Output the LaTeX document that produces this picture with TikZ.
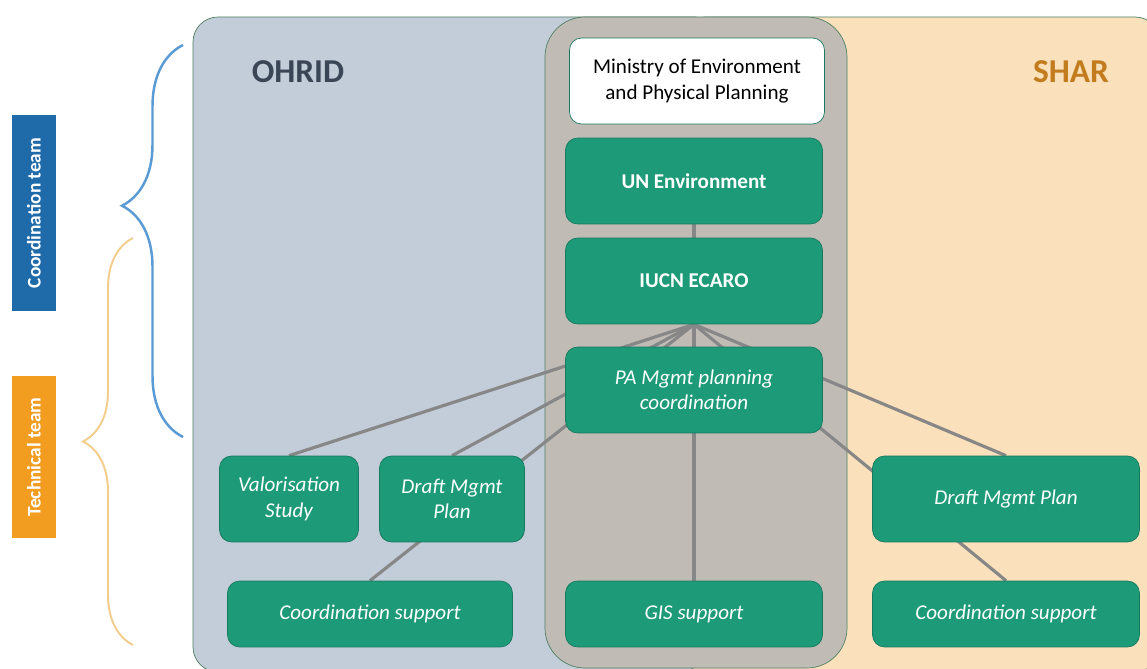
\documentclass[tikz,border=0pt]{standalone}
\usepackage{fontspec}
\setmainfont{Carlito}
\usetikzlibrary{positioning}
\usetikzlibrary{decorations.pathreplacing}
\usepackage{xcolor}

\definecolor{ohridfill}{HTML}{C3CCD9}
\definecolor{sharfill}{HTML}{FAE1BC}
\definecolor{midfill}{HTML}{C0BCB5}
\definecolor{panelline}{HTML}{4F7F63}
\definecolor{boxgreen}{HTML}{1D9A78}
\definecolor{boxline}{HTML}{17795E}
\definecolor{wiregrey}{HTML}{878787}
\definecolor{braceblue}{HTML}{5B9BD5}
\definecolor{braceorange}{HTML}{F2CD8C}
\definecolor{coordblue}{HTML}{1F6AA8}
\definecolor{techorange}{HTML}{F29C20}
\definecolor{ohridtext}{HTML}{3A4556}
\definecolor{shartext}{HTML}{C27C1E}

\pgfdeclarelayer{panel}
\pgfdeclarelayer{wire}
\pgfsetlayers{panel,wire,main}

\begin{document}
\begin{tikzpicture}[x=0.02cm, y=-0.02cm,
    greenbox/.style={draw=boxline, fill=boxgreen, rounded corners=0.24cm, text=white, align=center, font=\fontsize{12}{14.5}\selectfont},
    tallbox/.style={greenbox, minimum height=1.72cm},
    flatbox/.style={greenbox, minimum height=1.32cm},
    wire/.style={draw=wiregrey, line width=1.8pt},
    teamlabel/.style={rotate=90, text=white, font=\fontsize{11}{13}\selectfont\bfseries, minimum height=0.88cm, inner sep=0pt}]

    \useasboundingbox (0,0) rectangle (1147,669);

    \begin{pgfonlayer}{panel}
        \fill[white] (0,0) rectangle (1147,669);
        \draw[panelline, fill=ohridfill, rounded corners=0.5cm] (193,17) rectangle (720,672);
        \draw[panelline, fill=sharfill, rounded corners=0.5cm] (680,17) rectangle (1160,672);
        \draw[panelline, fill=midfill, rounded corners=0.8cm] (545,17) rectangle (847,668);
    \end{pgfonlayer}

    \node[text=ohridtext, font=\fontsize{19}{22}\selectfont\bfseries] (ohrid) at (298,72) {OHRID};
    \node[text=shartext, font=\fontsize{19}{22}\selectfont\bfseries] (shar) at (1071,72) {SHAR};

    \node[greenbox, fill=white, text=black, minimum width=5.1cm, minimum height=1.72cm] (ministry) at (697,81) {Ministry of Environment\\and Physical Planning};
    \node[tallbox, minimum width=5.14cm, font=\fontsize{12}{14.5}\selectfont\bfseries] (unep) at (694,181) {UN Environment};
    \node[tallbox, minimum width=5.14cm, font=\fontsize{12}{14.5}\selectfont\bfseries] (iucn) at (694,281) {IUCN ECARO};
    \node[tallbox, minimum width=5.14cm, font=\fontsize{12}{14.5}\selectfont\itshape] (pa) at (694,390) {PA Mgmt planning\\coordination};

    \node[tallbox, minimum width=2.78cm, font=\fontsize{12}{14.5}\selectfont\itshape] (valor) at (289,499) {Valorisation\\Study};
    \node[tallbox, minimum width=2.9cm, font=\fontsize{12}{14.5}\selectfont\itshape] (draftO) at (452,499) {Draft Mgmt\\Plan};
    \node[flatbox, minimum width=5.7cm, font=\fontsize{12}{14.5}\selectfont\itshape] (coordO) at (370,614) {Coordination support};
    \node[flatbox, minimum width=5.14cm, font=\fontsize{12}{14.5}\selectfont\itshape] (gis) at (694,614) {GIS support};
    \node[tallbox, minimum width=5.34cm, font=\fontsize{12}{14.5}\selectfont\itshape] (draftS) at (1006,499) {Draft Mgmt Plan};
    \node[flatbox, minimum width=5.34cm, font=\fontsize{12}{14.5}\selectfont\itshape] (coordS) at (1006,614) {Coordination support};

    \begin{pgfonlayer}{wire}
        \draw[wire] (unep.south) -- (iucn.north);
        \draw[wire] (iucn.south) -- (valor.north);
        \draw[wire] (iucn.south) -- (draftO.north);
        \draw[wire] (iucn.south) -- (coordO.north);
        \draw[wire] (iucn.south) -- (gis.north);
        \draw[wire] (iucn.south) -- (draftS.north);
        \draw[wire] (iucn.south) -- (coordS.north);
    \end{pgfonlayer}

    \node[teamlabel, fill=coordblue, minimum width=3.94cm] (coordteam) at (34,213) {Coordination team};
    \node[teamlabel, fill=techorange, minimum width=3.24cm] (techteam) at (34,457) {Technical team};

    \draw[braceblue, line width=1.4pt, decorate, decoration={brace, amplitude=1.22cm, aspect=0.59}] (183,437) -- (183,45);
    \draw[braceorange, line width=1.1pt, decorate, decoration={brace, amplitude=1.0cm, aspect=0.5}] (133,645) -- (133,238);
\end{tikzpicture}
\end{document}
